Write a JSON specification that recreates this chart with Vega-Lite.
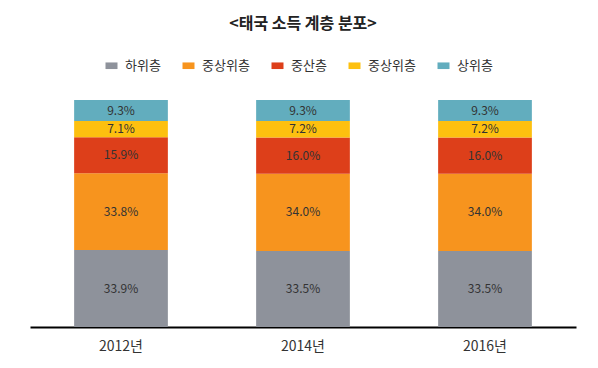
{
  "$schema": "https://vega.github.io/schema/vega-lite/v6.json",
  "width": 546,
  "height": 227,
  "autosize": {"type": "none"},
  "padding": {"left": 30, "right": 22, "top": 100, "bottom": 41},
  "background": "white",
  "title": {
    "text": "<태국 소득 계층 분포>",
    "fontSize": 16,
    "font": "Noto Sans CJK KR",
    "fontWeight": "bold",
    "color": "#222222",
    "anchor": "middle",
    "offset": 27
  },
  "data": {
    "values": [
      {"year": "2012년", "class": "하위층", "rank": 1, "value": 33.9},
      {"year": "2012년", "class": "중상위층", "rank": 2, "value": 33.8},
      {"year": "2012년", "class": "중산층", "rank": 3, "value": 15.9},
      {"year": "2012년", "class": "중상위층 ", "rank": 4, "value": 7.1},
      {"year": "2012년", "class": "상위층", "rank": 5, "value": 9.3},
      {"year": "2014년", "class": "하위층", "rank": 1, "value": 33.5},
      {"year": "2014년", "class": "중상위층", "rank": 2, "value": 34.0},
      {"year": "2014년", "class": "중산층", "rank": 3, "value": 16.0},
      {"year": "2014년", "class": "중상위층 ", "rank": 4, "value": 7.2},
      {"year": "2014년", "class": "상위층", "rank": 5, "value": 9.3},
      {"year": "2016년", "class": "하위층", "rank": 1, "value": 33.5},
      {"year": "2016년", "class": "중상위층", "rank": 2, "value": 34.0},
      {"year": "2016년", "class": "중산층", "rank": 3, "value": 16.0},
      {"year": "2016년", "class": "중상위층 ", "rank": 4, "value": 7.2},
      {"year": "2016년", "class": "상위층", "rank": 5, "value": 9.3}
    ]
  },
  "transform": [
    {"stack": "value", "groupby": ["year"], "sort": [{"field": "rank", "order": "ascending"}], "as": ["v0", "v1"]},
    {"calculate": "(datum.v0 + datum.v1) / 2", "as": "mid"},
    {"calculate": "format(datum.value, '.1f') + '%'", "as": "label"}
  ],
  "encoding": {
    "x": {
      "field": "year",
      "type": "nominal",
      "scale": {"paddingInner": 0.485, "paddingOuter": 0.2425},
      "axis": {
        "title": null,
        "labelAngle": 0,
        "labelFont": "Noto Sans CJK KR",
        "labelFontSize": 14,
        "labelColor": "#333333",
        "labelPadding": 12,
        "ticks": false,
        "domainColor": "#000000",
        "domainWidth": 2
      }
    }
  },
  "layer": [
    {
      "mark": {"type": "bar"},
      "encoding": {
        "y": {"field": "v0", "type": "quantitative", "scale": {"domain": [0, 100]}, "axis": null},
        "y2": {"field": "v1"},
        "color": {
          "field": "class",
          "type": "nominal",
          "scale": {
            "domain": ["하위층", "중상위층", "중산층", "중상위층 ", "상위층"],
            "range": ["#8e929b", "#f7941e", "#dd3f1a", "#fdc00f", "#62adbe"]
          },
          "legend": {
            "title": null,
            "orient": "none",
            "legendX": 75,
            "legendY": -41,
            "direction": "horizontal",
            "labelExpr": "trim(datum.label)",
            "labelFont": "Noto Sans CJK KR",
            "labelFontSize": 13,
            "labelColor": "#333333",
            "symbolType": "M-1,-0.55L1,-0.55L1,0.55L-1,0.55Z",
            "symbolSize": 144,
            "symbolStrokeWidth": 0,
            "labelOffset": 7,
            "columnPadding": 21
          }
        }
      }
    },
    {
      "mark": {"type": "text", "font": "Noto Sans CJK KR", "fontSize": 12, "color": "#333333"},
      "encoding": {
        "y": {"field": "mid", "type": "quantitative", "scale": {"domain": [0, 100]}},
        "text": {"field": "label", "type": "nominal"}
      }
    }
  ],
  "config": {
    "view": {"stroke": null}
  }
}
